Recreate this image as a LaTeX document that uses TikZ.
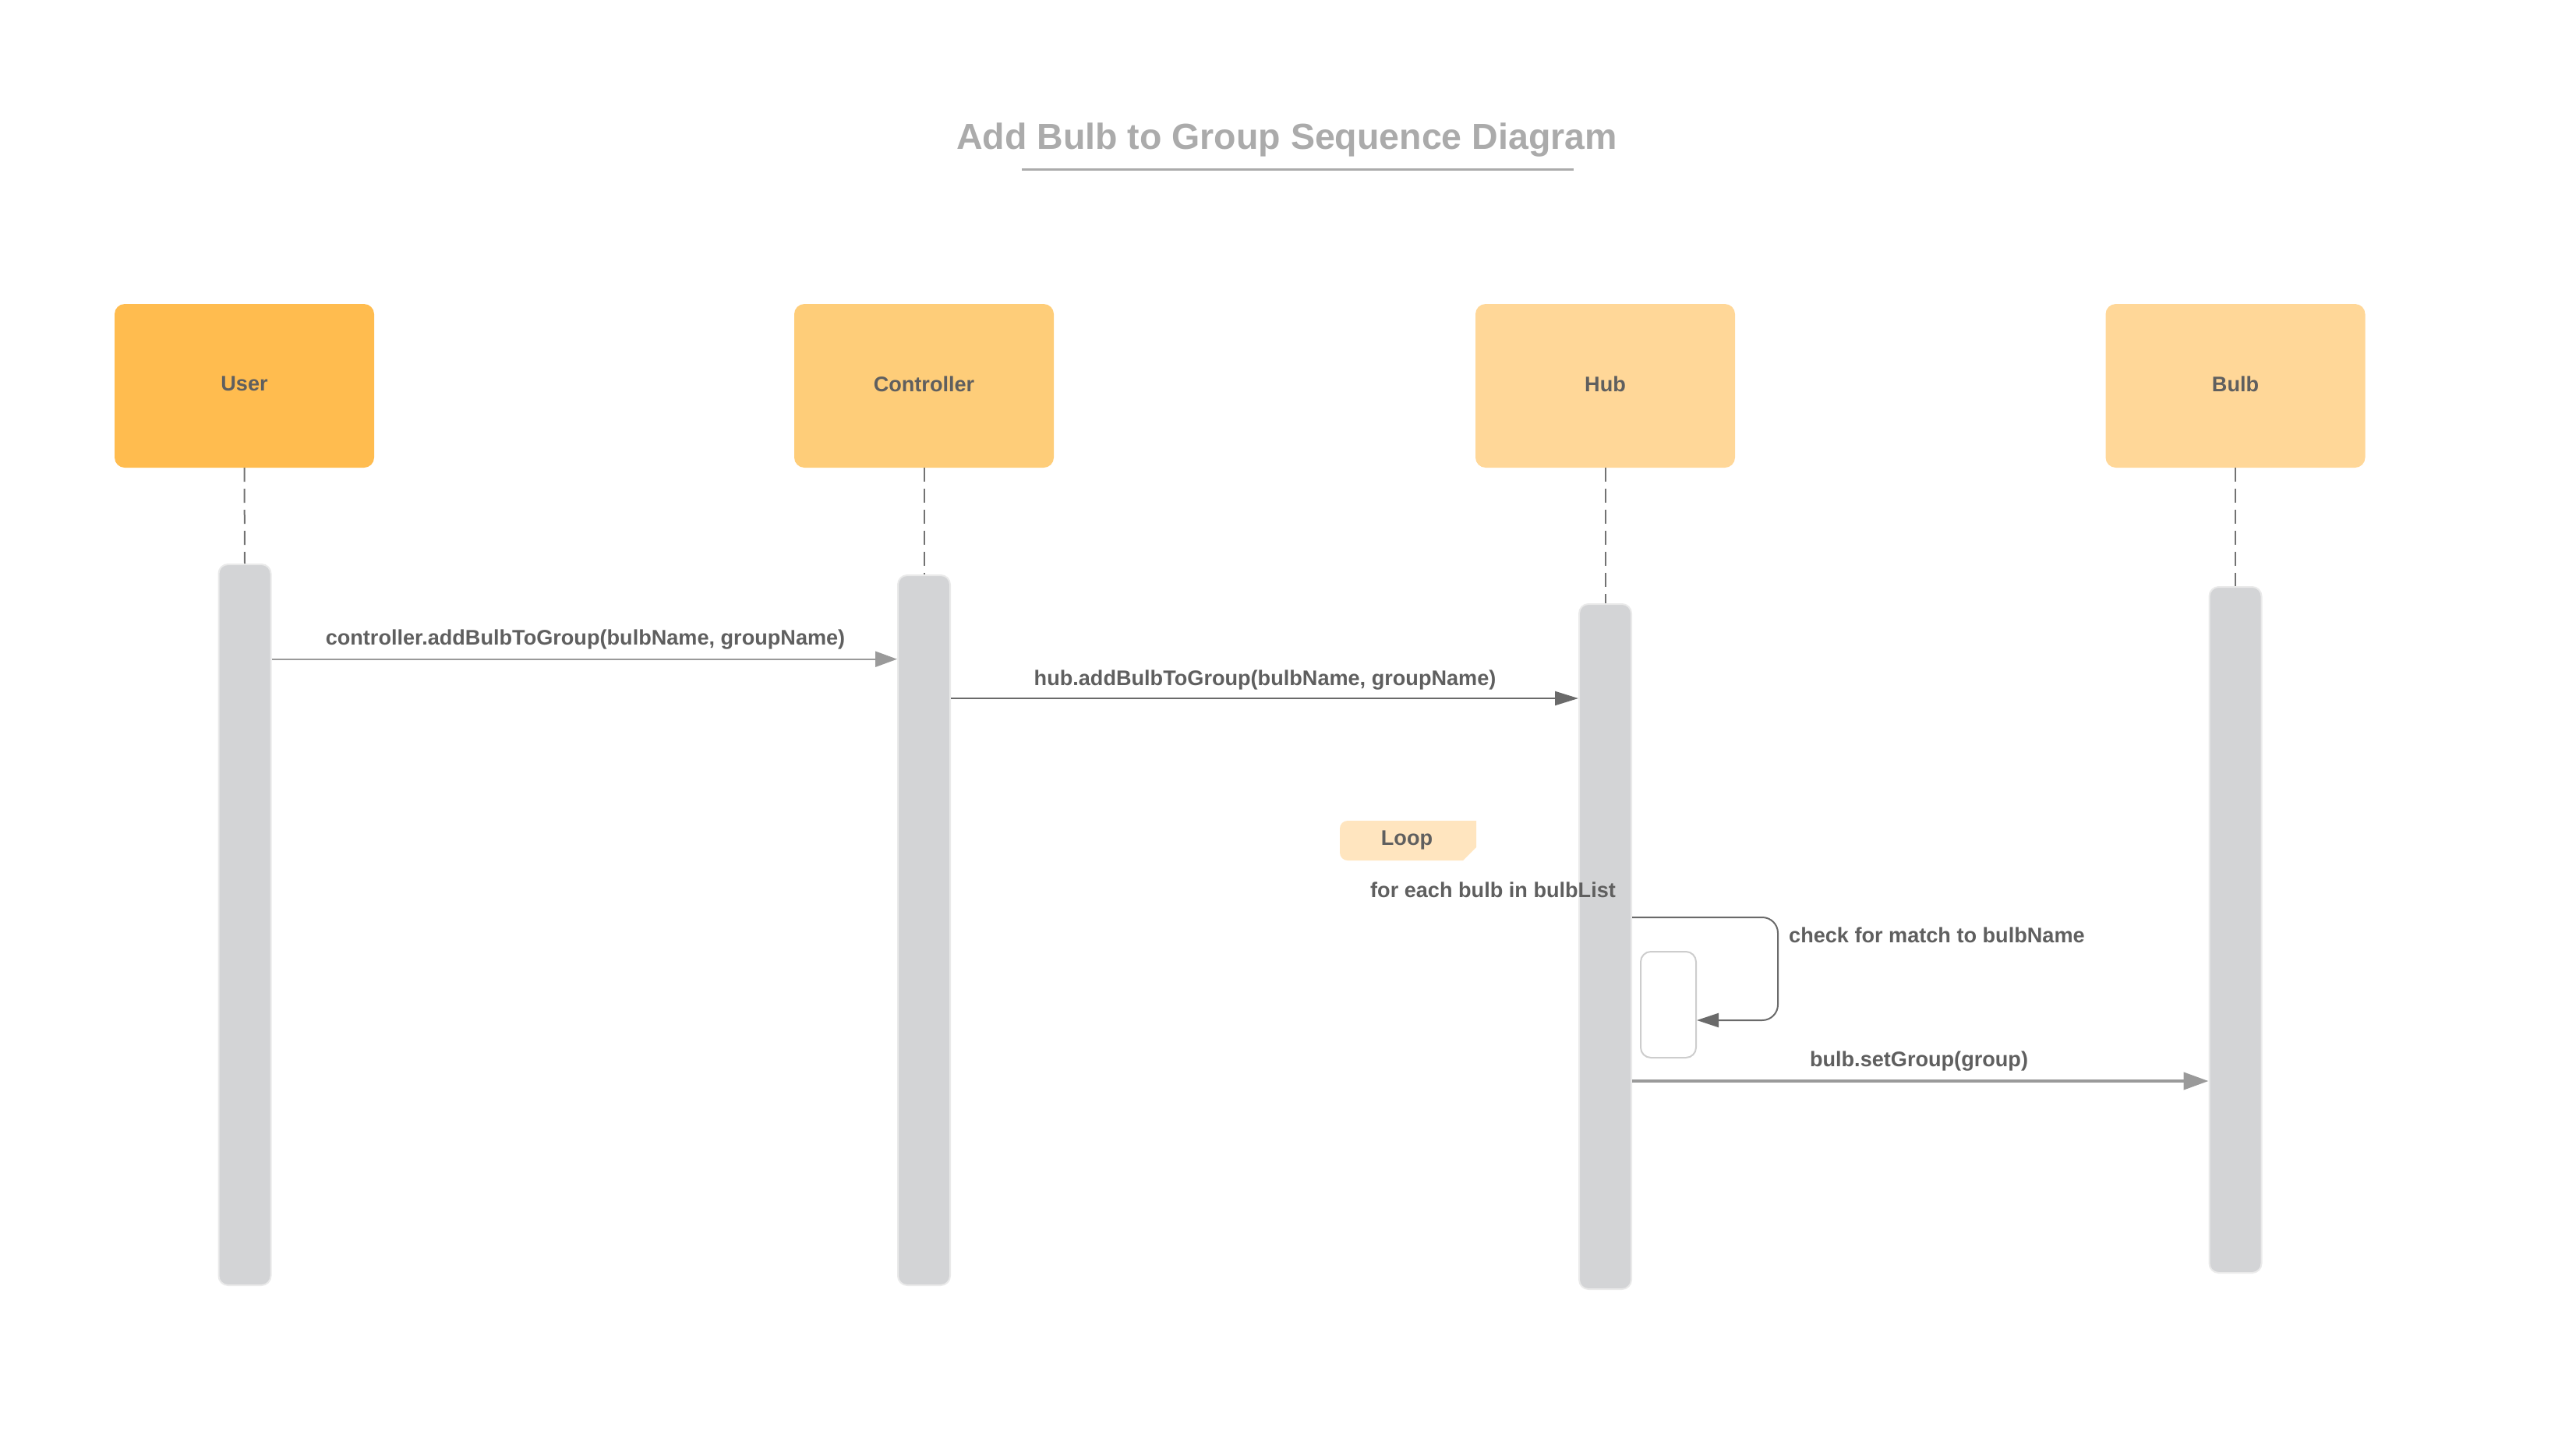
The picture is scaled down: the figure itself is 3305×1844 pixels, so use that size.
\documentclass[tikz,border=0pt]{standalone}
\usepackage{fontspec}
\setmainfont{Liberation Sans}
\usetikzlibrary{arrows.meta}
\definecolor{userc}{HTML}{FFBC4F}
\definecolor{ctrlc}{HTML}{FECD79}
\definecolor{hubc}{HTML}{FFD798}
\definecolor{barfill}{HTML}{D3D4D6}
\definecolor{barline}{HTML}{EAEAEA}
\definecolor{txt}{HTML}{5F5F5F}
\definecolor{titlec}{HTML}{ABABAB}
\definecolor{loopc}{HTML}{FFE5BF}
\definecolor{msglight}{HTML}{9A9A9A}
\definecolor{msgdark}{HTML}{6A6A6A}
\definecolor{lifec}{HTML}{727272}
\definecolor{actline}{HTML}{CDCDCD}
\newcommand\lblfont{\bfseries\fontsize{27.1}{32}\selectfont}
\newcommand\ttlfont{\bfseries\fontsize{46.5}{54}\selectfont}
\begin{document}
\begin{tikzpicture}[x=1pt,y=-1pt,
  actor/.style={rounded corners=13pt, minimum width=333pt, minimum height=210pt, inner sep=0pt},
  actorlbl/.style={font=\lblfont, text=txt, inner sep=0pt},
  bar/.style={fill=barfill, draw=barline, line width=2pt, rounded corners=12pt, minimum width=67pt, inner sep=0pt, anchor=north},
  lbl/.style={font=\lblfont, text=txt, inner sep=0pt, anchor=base},
  life/.style={draw=lifec, line width=2pt, dash pattern=on 18pt off 9pt},
  msgone/.style={draw=msglight, line width=2pt, -{Triangle[length=28pt,width=20pt]}},
  msgtwo/.style={draw=msgdark, line width=2pt, -{Triangle[length=30pt,width=18pt]}},
  msgthree/.style={draw=msglight, line width=4pt, -{Triangle[length=32pt,width=22pt]}},
  selfmsg/.style={draw=msgdark, line width=2pt, rounded corners=20pt, -{Triangle[length=28pt,width=18pt]}},
  actbox/.style={draw=actline, fill=white, line width=2pt, rounded corners=13pt, minimum width=71pt, minimum height=136pt, inner sep=0pt}
]
\useasboundingbox (0,0) rectangle (3305,1844);

% title
\node[font=\ttlfont, text=titlec, anchor=base, inner sep=0pt] (title) at (1651,191) {Add Bulb to Group Sequence Diagram};
\coordinate (ulA) at (1311,217.7);
\coordinate (ulB) at (2019,217.7);
\draw[titlec, line width=2.5pt] (ulA) -- (ulB);

% actors
\node[actor, fill=userc] (user) at (313.5,495) {};
\node[actor, fill=ctrlc] (ctrl) at (1185.5,495) {};
\node[actor, fill=hubc] (hub) at (2059.5,495) {};
\node[actor, fill=hubc] (bulb) at (2868,495) {};
\node[actorlbl] (userlbl) at ([yshift=2.5pt]user.center) {User};
\node[actorlbl] (ctrllbl) at ([yshift=2.5pt]ctrl.center) {Controller};
\node[actorlbl] (hublbl) at ([yshift=2.5pt]hub.center) {Hub};
\node[actorlbl] (bulblbl) at ([yshift=2.5pt]bulb.center) {Bulb};

% activation bars
\node[bar, minimum height=925pt] (ubar) at (314,723) {};
\node[bar, minimum height=911pt] (cbar) at (1185.5,737) {};
\node[bar, minimum height=879pt] (hbar) at (2059.5,774) {};
\node[bar, minimum height=880pt] (bbar) at (2868,752) {};

% lifelines
\draw[life] (user.south) -- (ubar.north);
\draw[life] (ctrl.south) -- (cbar.north);
\draw[life] (hub.south) -- (hbar.north);
\draw[life] (bulb.south) -- (bbar.north);

% message 1
\coordinate (yone) at (0,845.7);
\draw[msgone] (ubar.east |- yone) -- (cbar.west |- yone);
\node[lbl] (lone) at (751,827) {controller.addBulbToGroup(bulbName, groupName)};

% message 2
\coordinate (ytwo) at (0,896);
\draw[msgtwo] (cbar.east |- ytwo) -- (hbar.west |- ytwo);
\node[lbl] (ltwo) at (1623,879) {hub.addBulbToGroup(bulbName, groupName)};

% loop tag
\fill[loopc] (1894,1053) -- (1894,1087) -- (1877,1104) [rounded corners=10pt] -- (1719,1104) -- (1719,1053) -- (1894,1053);
\node[lbl] (looplbl) at (1805,1084) {Loop};
\node[lbl, anchor=base west] (cond) at (1758,1151) {for each bulb in bulbList};

% self message
\node[actbox] (act) at (2140.5,1289) {};
\coordinate (sa) at (0,1177);
\coordinate (sb) at (2281,0);
\coordinate (sc) at (0,1309);
\draw[selfmsg] (hbar.east |- sa) -- (sb |- sa) -- (sb |- sc) -- (act.east |- sc);
\node[lbl, anchor=base west] (lself) at (2295,1209) {check for match to bulbName};

% message 3
\coordinate (ythree) at (0,1387);
\draw[msgthree] (hbar.east |- ythree) -- (bbar.west |- ythree);
\node[lbl] (lthree) at (2462,1368) {bulb.setGroup(group)};
\end{tikzpicture}
\end{document}
